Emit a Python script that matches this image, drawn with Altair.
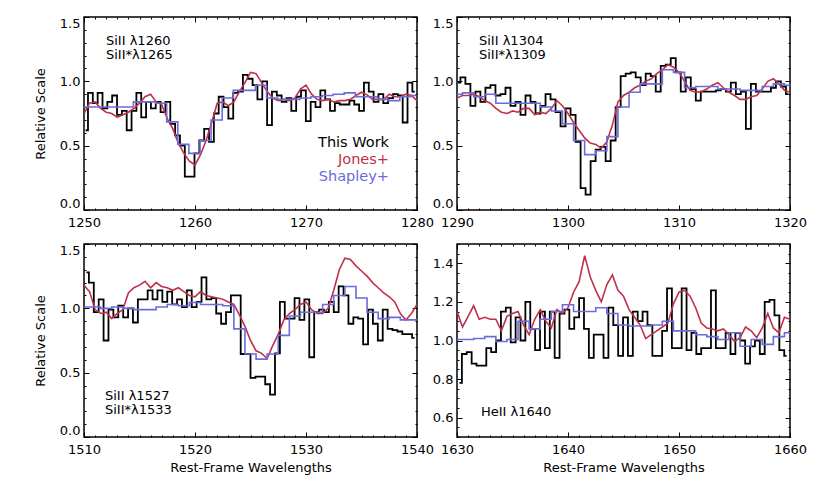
import altair as alt
import numpy as np
import pandas as pd

# ---------------- data ----------------
# Panel 1: SiII 1260
p1_black = [0.62, 0.91, 0.83, 0.91, 0.79, 0.84, 0.89, 0.74, 0.77, 0.62,
            0.77, 0.91, 0.72, 0.84, 0.79, 0.84, 0.76, 0.84, 0.67, 0.58,
            0.50, 0.26, 0.26, 0.44, 0.54, 0.63, 0.53, 0.75, 0.88, 0.80,
            0.71, 0.91, 0.92, 1.05, 1.02, 0.97, 0.86, 1.00, 0.66, 0.92,
            0.89, 0.84, 0.87, 0.77, 0.88, 0.93, 0.69, 0.84, 0.80, 0.93,
            0.86, 0.77, 0.83, 0.82, 0.82, 0.85, 0.82, 0.77, 0.99, 0.92,
            0.84, 0.90, 0.83, 0.87, 0.90, 0.89, 0.68, 0.99, 0.92]
p1_red = [0.75, 0.83, 0.84, 0.79, 0.76, 0.75, 0.72, 0.74, 0.76, 0.79,
          0.83, 0.88, 0.90, 0.84, 0.82, 0.71, 0.63, 0.52, 0.44, 0.38,
          0.35, 0.43, 0.54, 0.68, 0.83, 0.84, 0.81, 0.84, 0.92, 0.99,
          1.07, 1.06, 0.99, 0.92, 0.87, 0.85, 0.86, 0.85, 0.87, 0.94,
          0.97, 0.90, 0.86, 0.85, 0.86, 0.84, 0.85, 0.85, 0.86, 0.89,
          0.915, 0.895, 0.86, 0.86, 0.86, 0.90, 0.88, 0.88, 0.90, 0.89, 0.85]
p1_blue = [0.80, 0.80, 0.80, 0.80, 0.80, 0.84, 0.84, 0.83, 0.685, 0.51,
           0.44, 0.54, 0.70, 0.87, 0.93, 0.93, 0.97, 0.87, 0.86, 0.86,
           0.87, 0.88, 0.89, 0.90, 0.91, 0.88, 0.88, 0.86, 0.85, 0.88, 0.89]

# Panel 2: SiII 1304
p2_black = [0.99, 1.03, 0.98, 0.81, 0.92, 0.84, 0.95, 0.97, 0.89, 0.90,
            0.95, 0.81, 0.84, 0.74, 0.89, 0.84, 0.75, 0.81, 0.90, 0.86,
            0.76, 0.65, 0.79, 0.74, 0.53, 0.17, 0.12, 0.38, 0.47, 0.49,
            0.38, 0.54, 0.80, 1.04, 1.06, 1.07, 1.03, 0.97, 1.06, 1.04,
            0.92, 1.12, 1.13, 1.18, 1.07, 0.92, 1.03, 0.94, 0.85, 0.92,
            0.92, 0.92, 0.93, 0.94, 0.92, 0.99, 0.90, 0.92, 0.63, 0.98,
            0.92, 0.92, 0.92, 0.95, 1.00, 0.96, 0.90]
p2_red = [0.87, 0.89, 0.89, 0.90, 0.88, 0.85, 0.83, 0.79, 0.76, 0.75,
          0.77, 0.76, 0.79, 0.79, 0.74, 0.76, 0.75, 0.79, 0.85, 0.81,
          0.75, 0.68, 0.62, 0.56, 0.52, 0.51, 0.48, 0.53, 0.66, 0.84,
          0.89, 0.915, 0.95, 0.97, 1.00, 1.02, 1.06, 1.09, 1.13, 1.11,
          1.07, 1.00, 0.93, 0.915, 0.92, 0.94, 0.97, 0.99, 0.95, 0.915,
          0.89, 0.86, 0.86, 0.88, 0.89, 0.94, 1.00, 1.02, 0.98, 0.93, 0.915]
p2_blue = [0.90, 0.91, 0.88, 0.90, 0.83, 0.83, 0.83, 0.83, 0.80, 0.77,
           0.67, 0.54, 0.43, 0.46, 0.57, 0.80, 0.915, 0.98, 0.98, 1.09,
           1.07, 0.95, 0.96, 0.96, 0.94, 0.94, 0.93, 0.93, 0.96, 0.98, 0.97]

# Panel 3: SiII 1527
p3_black = [1.28, 1.20, 0.97, 1.07, 0.75, 0.99, 0.93, 1.02, 0.93, 1.00,
            0.89, 1.07, 1.07, 1.14, 1.07, 1.14, 1.05, 1.13, 1.03, 1.07,
            1.01, 1.14, 1.01, 1.05, 1.24, 1.07, 1.08, 0.96, 0.88, 0.97,
            1.10, 1.10, 0.645, 0.645, 0.46, 0.47, 0.47, 0.41, 0.33, 0.65,
            1.05, 0.92, 0.92, 1.08, 0.91, 1.07, 0.62, 0.97, 0.99, 0.97,
            1.05, 0.97, 1.17, 1.10, 0.88, 0.93, 0.92, 0.72, 0.99, 0.88,
            0.75, 0.99, 0.84, 0.83, 0.82, 0.80, 0.80, 0.77]
p3_red = [1.18, 1.13, 0.99, 0.96, 0.97, 0.92, 0.96, 0.99, 1.12, 1.16,
          1.18, 1.21, 1.16, 1.20, 1.17, 1.16, 1.14, 1.16, 1.13, 1.10,
          1.09, 1.13, 1.10, 1.09, 1.08, 1.07, 1.05, 1.03, 0.95, 0.86,
          0.75, 0.67, 0.65, 0.61, 0.71, 0.80, 0.91, 0.96, 0.99, 1.03,
          1.05, 0.99, 0.96, 0.96, 1.00, 1.14, 1.30, 1.39, 1.38, 1.33,
          1.29, 1.25, 1.20, 1.16, 1.12, 1.09, 1.05, 0.96, 0.91, 0.96, 1.03]
p3_blue = [1.01, 1.01, 1.00, 1.01, 1.00, 0.99, 0.99, 1.01, 1.03, 1.02,
           1.045, 1.03, 1.03, 1.02, 0.84, 0.645, 0.605, 0.645, 0.79, 0.94,
           0.97, 0.97, 1.03, 1.10, 1.17, 1.08, 0.97, 0.92, 0.93, 0.91, 0.91]

# Panel 4: HeII 1640
p4_black = [0.78, 0.93, 0.94, 0.88, 0.87, 0.87, 0.96, 0.94, 1.00, 1.15,
            1.17, 0.99, 1.12, 1.00, 1.20, 1.06, 0.95, 1.15, 0.96, 1.15,
            0.91, 1.14, 1.16, 1.06, 1.12, 1.22, 1.06, 0.91, 1.03, 1.03,
            0.91, 1.17, 1.08, 0.92, 1.12, 0.92, 1.15, 1.10, 1.15, 1.08,
            0.92, 0.92, 1.05, 1.27, 0.96, 0.96, 1.27, 0.95, 1.04, 0.93,
            0.96, 0.96, 1.26, 0.96, 0.96, 1.04, 0.93, 1.04, 1.00, 0.88,
            0.97, 1.00, 0.93, 1.20, 1.21, 1.13, 0.95, 0.92]
p4_red = [1.15, 1.07, 1.125, 1.18, 1.11, 1.12, 1.11, 1.11, 1.05, 1.125,
          1.14, 1.15, 1.08, 1.03, 1.11, 1.16, 1.10, 1.065, 1.16, 1.14,
          1.17, 1.25, 1.305, 1.44, 1.33, 1.26, 1.20, 1.29, 1.34, 1.26,
          1.23, 1.16, 1.12, 1.08, 1.01, 1.03, 1.05, 1.07, 1.09, 1.19,
          1.25, 1.26, 1.23, 1.17, 1.09, 1.065, 1.06, 1.05, 1.06, 1.03,
          0.995, 1.015, 1.07, 1.05, 1.015, 1.065, 1.14, 1.065, 1.04, 1.12, 1.11]
p4_blue = [1.005, 1.005, 1.01, 1.02, 0.995, 1.005, 1.10, 1.06, 1.11, 1.15,
           1.185, 1.15, 1.15, 1.17, 1.14, 1.08, 1.075, 1.075, 1.08, 1.10,
           1.05, 1.05, 1.03, 1.02, 1.005, 1.04, 0.97, 1.005, 0.98, 1.02, 1.04]

# wavelength grids: (first bin centre, last bin centre) for each series
p1_grid = {"black": (1250.14, 1279.80), "red": (1250.0, 1280.0), "blue": (1249.95, 1279.95)}
p2_grid = {"black": (1290.08, 1319.86), "red": (1290.0, 1320.0), "blue": (1290.0, 1320.0)}
p3_grid = {"black": (1510.22, 1539.78), "red": (1510.0, 1540.0), "blue": (1510.0, 1540.0)}
p4_grid = {"black": (1630.22, 1659.70), "red": (1630.0, 1660.0), "blue": (1630.0, 1660.0)}

x_domains = [[1250, 1280], [1290, 1320], [1510, 1540], [1630, 1660]]
y_domains = [[0.0, 1.5], [0.0, 1.5], [0.0, 1.5], [0.5, 1.5]]
y_major = [[0.0, 0.5, 1.0, 1.5]] * 3 + [[0.6, 0.8, 1.0, 1.2, 1.4]]
legend_labels = ["This Work", "Jones+", "Shapley+"]
annotations = [["SiII λ1260", "SiII*λ1265"], ["SiII λ1304", "SiII*λ1309"],
               ["SiII λ1527", "SiII*λ1533"], ["HeII λ1640"]]

RED = "#C0304A"
BLUE = "#6B6BDB"
FONT = "DejaVu Sans"
W, H = 333, 193


def xaxis(orient, values, size, labels, title=None):
    kw = dict(orient=orient, values=values, tickSize=size, offset=-size,
              labels=labels, domain=False, grid=False, tickColor="black",
              tickWidth=1, title=title)
    if labels:
        kw.update(labelFlush=False, labelPadding=6, labelFontSize=13,
                  labelFont=FONT, labelColor="black", format="d",
                  labelOverlap=False)
    if title:
        kw.update(titlePadding=5, titleFontSize=13, titleFont=FONT,
                  titleFontWeight="normal", titleColor="black")
    return alt.Axis(**kw)


def yaxis(orient, values, size, labels, title=None):
    kw = dict(orient=orient, values=values, tickSize=size, offset=-size,
              labels=labels, domain=False, grid=False, tickColor="black",
              tickWidth=1, title=title)
    if labels:
        kw.update(labelFlush=True, labelPadding=4, labelFontSize=13,
                  labelFont=FONT, labelColor="black", format=".1f",
                  labelOverlap=False)
    if title:
        kw.update(titlePadding=12, titleFontSize=13, titleFont=FONT,
                  titleFontWeight="normal", titleColor="black")
    return alt.Axis(**kw)


def text_layer(label, x, y, color="black", size=13, align="left"):
    return alt.Chart(pd.DataFrame({"t": [label]})).mark_text(
        align=align, baseline="middle", font=FONT, fontSize=size, color=color
    ).encode(text="t:N", x=alt.value(x), y=alt.value(y))


def panel(i, black, red, blue, grid, ytitle, xtitle, texts):
    xd, yd = x_domains[i], y_domains[i]
    xmin = np.arange(xd[0], xd[1] + 1, 1).tolist()
    xmaj = np.arange(xd[0], xd[1] + 1, 10).tolist()
    ystep = 0.1 if yd[0] == 0 else 0.05
    ymin = np.round(np.arange(yd[0], yd[1] + 1e-6, ystep), 3).tolist()
    dfb = pd.DataFrame({"w": np.linspace(*grid["black"], len(black)), "f": black})
    dfr = pd.DataFrame({"w": np.linspace(*grid["red"], len(red)), "f": red})
    dfl = pd.DataFrame({"w": np.linspace(*grid["blue"], len(blue)), "f": blue})
    xs = alt.Scale(domain=xd, nice=False, zero=False)
    ys = alt.Scale(domain=yd, nice=False, zero=False)

    lb = alt.Chart(dfb).mark_line(color="black", strokeWidth=1.8, interpolate="step", clip=True).encode(
        x=alt.X("w:Q", scale=xs, axis=xaxis("bottom", xmaj, 5, True, xtitle)),
        y=alt.Y("f:Q", scale=ys, axis=yaxis("left", y_major[i], 5, True, ytitle)))
    lr = alt.Chart(dfr).mark_line(color=RED, strokeWidth=1.6, clip=True).encode(
        x=alt.X("w:Q", scale=xs, axis=xaxis("top", xmaj, 5, False)),
        y=alt.Y("f:Q", scale=ys, axis=yaxis("right", y_major[i], 5, False)))
    ll = alt.Chart(dfl).mark_line(color=BLUE, strokeWidth=1.6, interpolate="step", clip=True).encode(
        x=alt.X("w:Q", scale=xs, axis=xaxis("bottom", xmin, 2, False)),
        y=alt.Y("f:Q", scale=ys, axis=yaxis("left", ymin, 2, False)))
    lg = alt.Chart(dfb).mark_line(strokeOpacity=0, clip=True).encode(
        x=alt.X("w:Q", scale=xs, axis=xaxis("top", xmin, 2, False)),
        y=alt.Y("f:Q", scale=ys, axis=yaxis("right", ymin, 2, False)))
    return alt.layer(lb, lr, ll, lg, *texts).resolve_axis(
        x="independent", y="independent").properties(width=W, height=H)


t1 = [text_layer(annotations[0][0], 22, 23.5), text_layer(annotations[0][1], 22, 37.5),
      text_layer(legend_labels[0], 305, 126, "black", 14.5, "right"),
      text_layer(legend_labels[1], 305, 143, RED, 14.5, "right"),
      text_layer(legend_labels[2], 305, 160, BLUE, 14.5, "right")]
t2 = [text_layer(annotations[1][0], 22, 23.5), text_layer(annotations[1][1], 22, 37.5)]
t3 = [text_layer(annotations[2][0], 21, 152), text_layer(annotations[2][1], 21, 166)]
t4 = [text_layer(annotations[3][0], 24, 168)]

c1 = panel(0, p1_black, p1_red, p1_blue, p1_grid, "Relative Scale", None, t1)
c2 = panel(1, p2_black, p2_red, p2_blue, p2_grid, None, None, t2)
c3 = panel(2, p3_black, p3_red, p3_blue, p3_grid, "Relative Scale", "Rest-Frame Wavelengths", t3)
c4 = panel(3, p4_black, p4_red, p4_blue, p4_grid, None, "Rest-Frame Wavelengths", t4)

chart = alt.concat(c1, c2, c3, c4, columns=2, spacing={"row": 34, "column": 40},
                   bounds="flush").properties(
    padding={"left": 25, "top": 7, "right": 5, "bottom": 5},
    background="white",
).configure_view(stroke="black", strokeWidth=1.5)

chart.save("out.html", embed_options={"renderer": "svg", "actions": False})
